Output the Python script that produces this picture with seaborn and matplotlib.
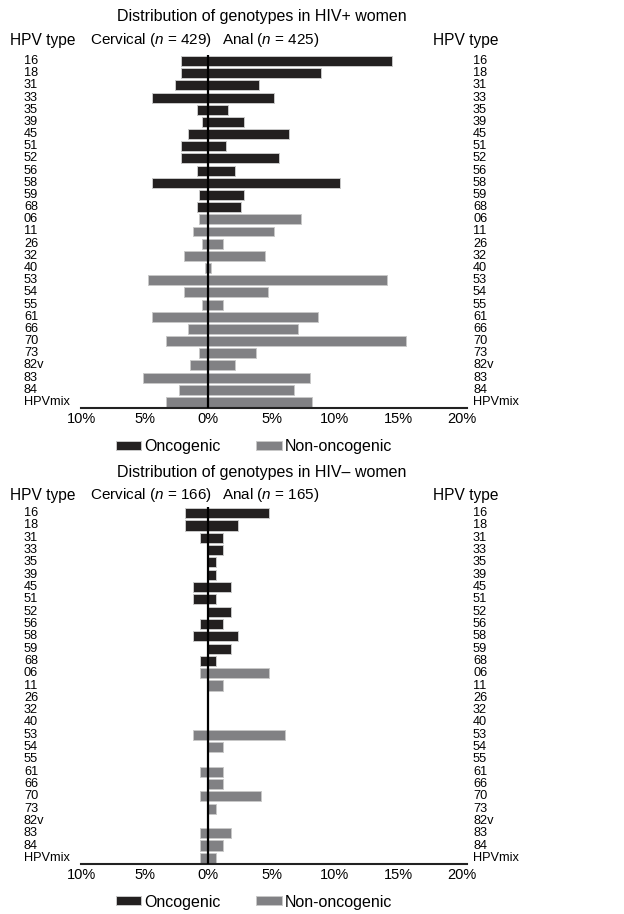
import numpy as np
import pandas as pd
import seaborn as sns
import matplotlib.pyplot as plt
from matplotlib.transforms import blended_transform_factory

genotypes = ['16', '18', '31', '33', '35', '39', '45', '51', '52', '56', '58', '59', '68',
             '06', '11', '26', '32', '40', '53', '54', '55', '61', '66', '70', '73', '82v',
             '83', '84', 'HPVmix']
oncogenic = ['16', '18', '31', '33', '35', '39', '45', '51', '52', '56', '58', '59', '68']

# % positive for each genotype
pos_cervical = [2.1, 2.1, 2.6, 4.4, 0.9, 0.5, 1.6, 2.1, 2.1, 0.9, 4.4, 0.7, 0.9,
                0.7, 1.2, 0.5, 1.9, 0.2, 4.7, 1.9, 0.5, 4.4, 1.6, 3.3, 0.7, 1.4, 5.1, 2.3, 3.3]
pos_anal = [14.5, 8.9, 4.0, 5.2, 1.6, 2.8, 6.4, 1.4, 5.6, 2.1, 10.4, 2.8, 2.6,
            7.3, 5.2, 1.2, 4.5, 0.2, 14.1, 4.7, 1.2, 8.7, 7.1, 15.6, 3.8, 2.1, 8.0, 6.8, 8.2]
neg_cervical = [1.8, 1.8, 0.6, 0, 0, 0, 1.2, 1.2, 0, 0.6, 1.2, 0, 0.6,
                0.6, 0, 0, 0, 0, 1.2, 0, 0, 0.6, 0, 0.6, 0, 0, 0.6, 0.6, 0.6]
neg_anal = [4.8, 2.4, 1.2, 1.2, 0.6, 0.6, 1.8, 0.6, 1.8, 1.2, 2.4, 1.8, 0.6,
            4.8, 1.2, 0, 0, 0, 6.1, 1.2, 0, 1.2, 1.2, 4.2, 0.6, 0, 1.8, 1.2, 0.6]

titles = ['Distribution of genotypes in HIV+ women', 'Distribution of genotypes in HIV\u2013 women']
n_cervical = [429, 166]
n_anal = [425, 165]
xticks = [-10, -5, 0, 5, 10, 15, 20]

groups = ['Oncogenic', 'Non-oncogenic']
colors = {'Oncogenic': '#231f20', 'Non-oncogenic': '#818184'}

sns.set_theme(style='white')
plt.rcParams['font.family'] = ['Liberation Sans', 'DejaVu Sans']
plt.rcParams['mathtext.fontset'] = 'custom'
plt.rcParams['mathtext.it'] = 'Liberation Sans:italic'
plt.rcParams['mathtext.rm'] = 'Liberation Sans'
plt.rcParams['text.color'] = 'black'
plt.rcParams['xtick.color'] = 'black'
plt.rcParams['xtick.labelcolor'] = 'black'

W, H = 624, 914
fig = plt.figure(figsize=(W / 100, H / 100), dpi=100)


def fx(x):
    return x / W


def fy(y):
    return 1 - y / H


def draw_panel(top, bottom, cervical, anal, title, nc, na, title_y, legend_y):
    ax = fig.add_axes([fx(81), fy(bottom), fx(467 - 81), (bottom - top) / H])
    n = len(genotypes)
    df = pd.DataFrame({'type': genotypes * 2,
                       'pct': [-v for v in cervical] + list(anal),
                       'site': ['Cervical'] * n + ['Anal'] * n})
    df['group'] = np.where(df['type'].isin(oncogenic), 'Oncogenic', 'Non-oncogenic')
    for site in ['Cervical', 'Anal']:
        sns.barplot(data=df[df['site'] == site], x='pct', y='type', hue='group',
                    order=genotypes, hue_order=groups, palette=colors, dodge=False,
                    width=0.82, edgecolor='#c8c8c8', linewidth=0.7,
                    legend=(site == 'Cervical'), ax=ax)
    ax.axvline(0, color='black', lw=1.6, zorder=5)
    ax.set_xlim(-10, 20.4)
    ax.set_ylim(28.5, -0.5)
    ax.set_xticks(xticks)
    ax.set_xticklabels([f'{abs(v)}%' for v in xticks], fontsize=10.5)
    ax.tick_params(axis='x', length=0, pad=3)
    ax.set_yticks([])
    ax.set_xlabel('')
    ax.set_ylabel('')
    for s in ['top', 'left', 'right']:
        ax.spines[s].set_visible(False)
    ax.spines['bottom'].set_linewidth(1.5)
    ax.spines['bottom'].set_color('#222222')

    # genotype labels on both sides
    tr = blended_transform_factory(fig.transFigure, ax.transData)
    for i, g in enumerate(genotypes):
        ax.text(fx(24), i, g, transform=tr, ha='left', va='center', fontsize=9.2)
        ax.text(fx(473), i, g, transform=tr, ha='left', va='center', fontsize=9.2)

    fig.text(fx(262), fy(title_y), title, ha='center', va='center', fontsize=11.5)
    hy = title_y + 23
    fig.text(fx(10), fy(hy), 'HPV type', ha='left', va='center', fontsize=11.2)
    fig.text(fx(90), fy(hy), f'Cervical ($n$ = {nc})', ha='left', va='center', fontsize=11)
    fig.text(fx(222), fy(hy), f'Anal ($n$ = {na})', ha='left', va='center', fontsize=11)
    fig.text(fx(433), fy(hy), 'HPV type', ha='left', va='center', fontsize=11.2)

    sns.move_legend(ax, 'center', bbox_to_anchor=(fx(254), fy(legend_y)),
                    bbox_transform=fig.transFigure, ncol=2, frameon=False, title=None,
                    fontsize=11.5, handlelength=1.6, handleheight=0.5,
                    handletextpad=0.2, columnspacing=2.2)
    return ax


draw_panel(55, 408, pos_cervical, pos_anal, titles[0], n_cervical[0], n_anal[0], 17, 447)
draw_panel(507, 864, neg_cervical, neg_anal, titles[1], n_cervical[1], n_anal[1], 472, 902)

plt.savefig('out.png', dpi=100)
